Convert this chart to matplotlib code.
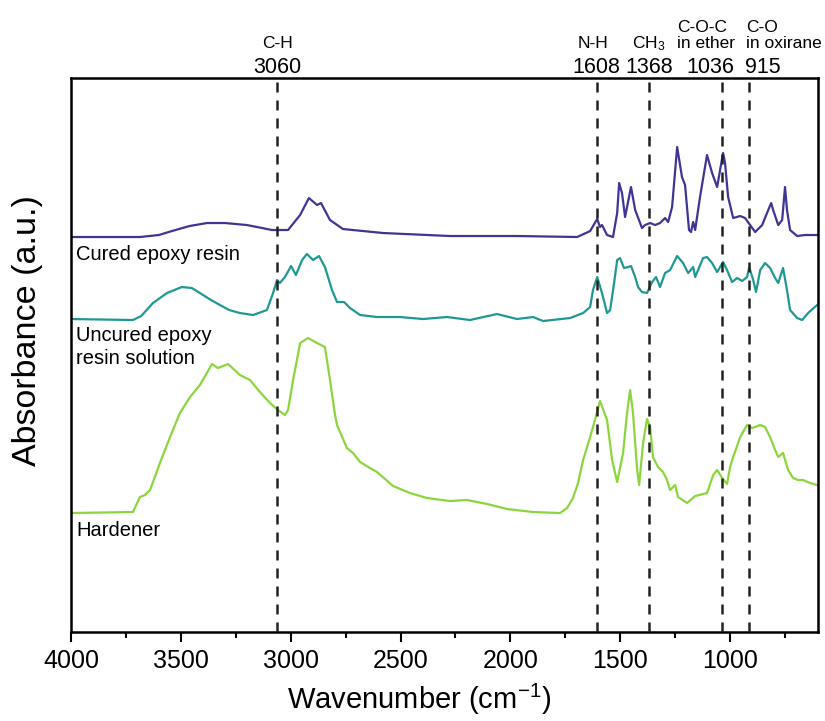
import matplotlib
matplotlib.use("Agg")
import matplotlib.pyplot as plt

plt.rcParams['font.family'] = ['Liberation Sans', 'DejaVu Sans']
plt.rcParams['mathtext.fontset'] = 'custom'
plt.rcParams['mathtext.rm'] = 'Liberation Sans'
plt.rcParams['mathtext.it'] = 'Liberation Sans:italic'

# FTIR spectra, absorbance in arbitrary units (curves already stacked)
cured_wn = [4000, 3686, 3600, 3540, 3460, 3381, 3300, 3200, 3130, 3085, 3012, 2957, 2917,
            2880, 2862, 2821, 2762,
            2580, 2275, 1970, 1696, 1637, 1605, 1592, 1583, 1560, 1533, 1514, 1505, 1492,
            1478, 1451, 1432, 1401, 1387, 1364, 1341, 1319, 1296, 1282, 1264, 1241, 1219,
            1205, 1187, 1178, 1168, 1159, 1137, 1105, 1082, 1059, 1032, 1023, 1009, 986,
            954, 932, 909, 886, 854, 832, 813, 804, 781, 763, 750, 741, 727, 695, 659, 604]
cured_abs = [395, 395, 397, 401, 406, 409, 409, 407, 404, 402, 402, 417, 434,
             427, 429, 412, 403,
             399, 396, 396, 395, 401, 413, 405, 407, 397, 395, 419, 449, 439,
             415, 445, 422, 404, 407, 409, 407, 409, 414, 410, 425, 485, 455,
             447, 402, 400, 410, 402, 435, 477, 459, 445, 479, 469, 435, 414,
             416, 414, 407, 400, 407, 419, 429, 422, 407, 412, 445, 422, 402, 396, 397, 397]

uncured_wn = [4000, 3718, 3680, 3627, 3563, 3495, 3450, 3413, 3370, 3322, 3280, 3231, 3171,
              3108, 3080, 3062, 3049,
              3026, 2998, 2976, 2948, 2926, 2898, 2871, 2844, 2812, 2789, 2757, 2730, 2684,
              2607, 2502, 2398, 2288, 2184, 2061, 1970, 1897, 1851, 1728, 1669, 1637, 1624,
              1605, 1583, 1560, 1546, 1528, 1514, 1501, 1483, 1464, 1451, 1432, 1419, 1401,
              1378, 1355, 1337, 1319, 1296, 1273, 1241, 1214, 1191, 1168, 1159, 1123, 1105,
              1082, 1059, 1032, 1014, 991, 968, 945, 923, 913, 895, 882, 863, 841, 818, 795,
              781, 759, 741, 727, 695, 672, 645, 604]
uncured_abs = [313, 312, 316, 329, 339, 345, 344, 339, 333, 327, 322, 319, 317,
               322, 339, 352, 349,
               355, 366, 357, 372, 378, 372, 376, 365, 342, 330, 330, 324, 317,
               315, 315, 313, 315, 312, 318, 313, 315, 311, 314, 319, 325, 342,
               355, 339, 319, 322, 349, 372, 374, 364, 365, 366, 355, 345, 340,
               339, 350, 355, 345, 359, 362, 376, 369, 359, 365, 355, 374, 375,
               369, 360, 370, 362, 350, 354, 351, 355, 365, 352, 340, 362, 369, 364, 354,
               349, 364, 342, 322, 314, 312, 319, 327]

hardener_wn = [4000, 3718, 3686, 3663, 3640, 3595, 3549, 3504, 3458, 3413, 3358, 3331, 3285,
               3231, 3185, 3140, 3094, 3058, 3026, 3012, 2989, 2957, 2921, 2880, 2844, 2821,
               2798, 2789, 2744, 2716, 2684, 2639, 2607, 2534, 2457, 2379, 2275, 2197, 2106,
               2015, 1897, 1774, 1742, 1715, 1692, 1669, 1637, 1624, 1592, 1560, 1537, 1514,
               1487, 1469, 1455, 1442, 1423, 1414, 1396, 1378, 1364, 1351, 1328, 1305, 1287,
               1273, 1250, 1237, 1196, 1159, 1105, 1077, 1059, 1036, 1014, 1000, 986, 954,
               923, 900, 863, 841, 818, 795, 781, 759, 736, 713, 690, 668, 636, 604]
hardener_abs = [119, 120, 135, 137, 142, 169, 195, 219, 235, 247, 268, 264, 268,
                257, 252, 240, 229, 222, 217, 222, 252, 289, 294, 289, 285, 252,
                217, 207, 184, 179, 170, 164, 160, 146, 139, 134, 131, 132, 128,
                123, 120, 119, 124, 134, 149, 172, 195, 205, 231, 212, 172, 150,
                179, 219, 242, 219, 162, 147, 189, 213, 205, 175, 165, 160, 152,
                142, 147, 135, 129, 136, 139, 157, 162, 154, 148, 165, 175, 195,
                207, 204, 207, 205, 195, 182, 175, 179, 162, 154, 152, 152, 149, 147]

series_names = ['Cured epoxy resin', 'Uncured epoxy\nresin solution', 'Hardener']
series_label_y = [378, 285, 102]

band_wn = [3060, 1608, 1368, 1036, 915]
band_name = ['C-H', 'N-H', 'CH$_3$', 'C-O-C\nin ether', 'C-O\nin oxirane']
band_name_x = [3060, 1625, 1368, 1241, 927]
band_name_ha = ['center', 'center', 'center', 'left', 'left']
band_num = ['3060', '1608', '1368', '1036', '915']
band_num_x = [3060, 1608, 1368, 1091, 932]
band_num_ha = ['center', 'center', 'center', 'center', 'left']

colors = ['#3f3593', '#1f9894', '#8bd63d']

fig = plt.figure(figsize=(8.25, 7.21), dpi=100)
ax = fig.add_axes([0.086, 0.1234, 0.9055, 0.7684])

ax.plot(cured_wn, cured_abs, color=colors[0], lw=1.6)
ax.plot(uncured_wn, uncured_abs, color=colors[1], lw=1.6)
ax.plot(hardener_wn, hardener_abs, color=colors[2], lw=1.6)

for wn in band_wn:
    ax.axvline(wn, color='#222222', lw=1.8, ls=(0, (4, 3.2)), zorder=3)

for txt, x, ha in zip(band_name, band_name_x, band_name_ha):
    ax.text(x, 1.054, txt, transform=ax.get_xaxis_transform(), ha=ha, va='baseline',
            multialignment='left', fontsize=12.5, linespacing=1.05)
for txt, x, ha in zip(band_num, band_num_x, band_num_ha):
    ax.text(x, 1.009, txt, transform=ax.get_xaxis_transform(), ha=ha, va='baseline',
            fontsize=15.5)

for name, y in zip(series_names, series_label_y):
    ax.text(3975, y, name, ha='left', va='center', fontsize=14.5, linespacing=1.25)

ax.set_xlim(4000, 600)
ax.set_ylim(0, 554)
ax.set_xticks([4000, 3500, 3000, 2500, 2000, 1500, 1000])
ax.set_xticks([3750, 3250, 2750, 2250, 1750, 1250, 750], minor=True)
ax.set_yticks([])
ax.tick_params(axis='x', which='major', direction='out', length=7, width=1.5,
               labelsize=18, pad=5)
ax.tick_params(axis='x', which='minor', direction='out', length=4, width=1.5)
for sp in ax.spines.values():
    sp.set_linewidth(1.8)

ax.set_xlabel('Wavenumber (cm$^{-1}$)', fontsize=21)
ax.xaxis.set_label_coords(0.466, -0.09)
ax.set_ylabel('Absorbance (a.u.)', fontsize=24.5)
ax.yaxis.set_label_coords(-0.038, 0.545)

fig.savefig('out.png', dpi=100)
